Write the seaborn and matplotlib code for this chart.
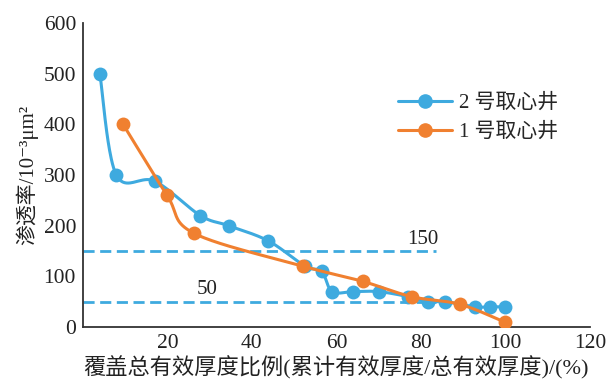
import numpy as np
import pandas as pd
import matplotlib
matplotlib.use("Agg")
import matplotlib.pyplot as plt
from matplotlib.lines import Line2D
import seaborn as sns

# Cumulative share of total effective thickness (%) and permeability (10^-3 μm²)
well2_x = [4.0, 7.9, 17.0, 27.8, 34.5, 43.9, 52.6, 56.5, 59.0, 64.0, 70.0, 77.0, 81.6, 85.8, 92.8, 96.4, 99.8]
well2_k = [500, 300, 288, 220, 200, 170, 120, 110, 70, 70, 70, 60, 50, 50, 40, 40, 40]
well1_x = [9.5, 19.9, 26.3, 52.2, 66.3, 77.8, 89.2, 99.8]
well1_k = [400, 260, 185, 120, 90, 60, 45, 10]

series_names = ["2 号取心井", "1 号取心井"]
cutoffs = [150, 50]
cutoff_labels = ["150", "50"]
x_ticks = [20, 40, 60, 80, 100, 120]
y_ticks = [0, 100, 200, 300, 400, 500, 600]

BLUE = "#3eaadf"
ORANGE = "#f08030"
INK = "#222222"

sns.set_style("white")
plt.rcParams["font.family"] = ["Liberation Serif", "Noto Sans CJK SC", "DejaVu Sans"]


def smooth(xs, ys, n=40):
    """Catmull-Rom spline through the points (Bezier form)."""
    p = np.column_stack([xs, ys]).astype(float)
    p = np.vstack([p[0], p, p[-1]])
    out = []
    t = np.linspace(0, 1, n)[:, None]
    for i in range(1, len(p) - 2):
        p0, p1, p2, p3 = p[i - 1], p[i], p[i + 1], p[i + 2]
        c1 = p1 + (p2 - p0) / 6.0
        c2 = p2 - (p3 - p1) / 6.0
        seg = ((1 - t) ** 3) * p1 + 3 * ((1 - t) ** 2) * t * c1 + 3 * (1 - t) * t ** 2 * c2 + t ** 3 * p2
        out.append(seg if i == 1 else seg[1:])
    s = np.vstack(out)
    return pd.DataFrame({"x": s[:, 0], "y": s[:, 1]})


fig = plt.figure(figsize=(6.1, 3.83), dpi=100)
ax = fig.add_axes([0.136, 0.146, 0.831, 0.794])

# cutoff lines
for c in cutoffs:
    ax.hlines(c, 0, 83.5, colors=BLUE, linestyles=(0, (4, 2)), linewidth=2.0, zorder=1)
ax.text(80.5, 150 + 5, cutoff_labels[0], fontsize=15, ha="center", va="bottom", color=INK)
ax.text(29.5, 50 + 5, cutoff_labels[1], fontsize=15, ha="center", va="bottom", color=INK)

for xs, ks, col, z in [(well2_x, well2_k, BLUE, 3), (well1_x, well1_k, ORANGE, 4)]:
    curve = smooth(xs, ks)
    sns.lineplot(data=curve, x="x", y="y", sort=False, estimator=None, color=col,
                 linewidth=2.2, ax=ax, zorder=z)
    pts = pd.DataFrame({"x": xs, "y": ks})
    sns.scatterplot(data=pts, x="x", y="y", color=col, s=100, linewidth=0, ax=ax, zorder=z + 0.5)

ax.set_xlim(0, 120)
ax.set_ylim(0, 600)
ax.set_xticks(x_ticks)
ax.set_yticks(y_ticks)
ax.tick_params(direction="in", length=4, width=1.2, color="#333333", labelsize=15.5,
               labelcolor=INK, pad=5)
for side in ["top", "right"]:
    ax.spines[side].set_visible(False)
for side in ["left", "bottom"]:
    ax.spines[side].set_color("#333333")
    ax.spines[side].set_linewidth(1.3)

ax.set_xlabel("覆盖总有效厚度比例(累计有效厚度/总有效厚度)/(%)", fontsize=16, color=INK, labelpad=2)
ax.set_ylabel("渗透率/10⁻³μm²", fontsize=15, color=INK, labelpad=4)

handles = [Line2D([], [], color=BLUE, linewidth=2.2, marker="o", markersize=9.5),
           Line2D([], [], color=ORANGE, linewidth=2.2, marker="o", markersize=9.5)]
ax.legend(handles, series_names, loc="upper left", bbox_to_anchor=(0.585, 0.83), frameon=False,
          fontsize=15, handlelength=2.6, labelspacing=0.45, handletextpad=0.3)

fig.savefig("out.png", dpi=100)
